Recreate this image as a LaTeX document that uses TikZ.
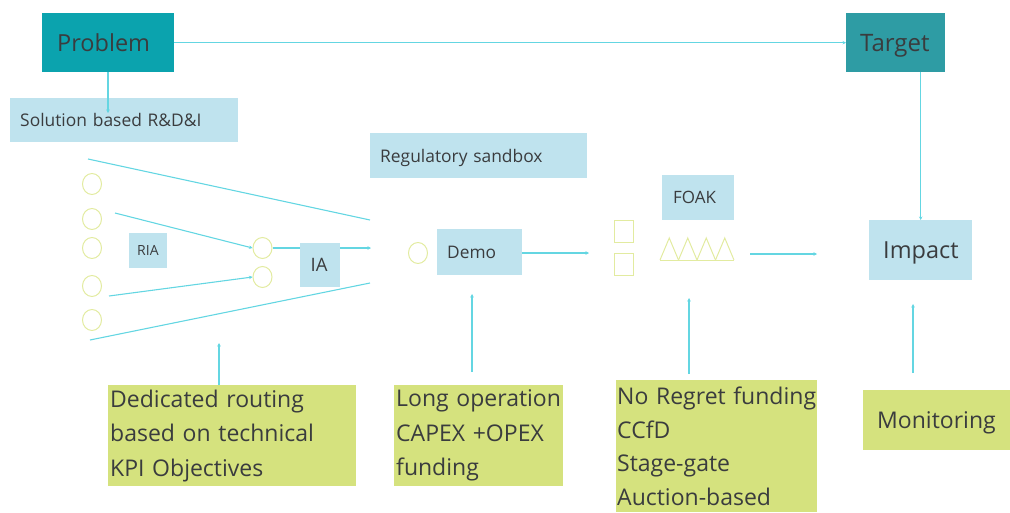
\documentclass[tikz,border=0pt]{standalone}
\usepackage{fontspec}
\setmainfont{Open Sans}
\usetikzlibrary{arrows.meta,shapes.geometric}
\definecolor{teal1}{RGB}{11,163,174}
\definecolor{teal2}{RGB}{46,156,164}
\definecolor{paleblue}{RGB}{191,227,238}
\definecolor{lime}{RGB}{213,226,126}
\definecolor{wire}{RGB}{100,214,226}
\definecolor{ring}{RGB}{226,235,160}
\definecolor{ink}{RGB}{58,60,62}
\tikzset{
  box/.style={anchor=north west, inner ysep=0pt, align=left, text=ink, text depth=0pt,
    font=\fontsize{#1}{#1}\selectfont},
  bluebox/.style={box=#1, fill=paleblue},
  greenbox/.style={anchor=north west, inner ysep=0pt, align=left, text=ink,
    fill=lime, font=\fontsize{23}{34.5}\selectfont},
  conn/.style={draw=wire, line width=1.1pt, -{Stealth[length=3.5pt,width=3.5pt]}},
  plain/.style={draw=wire, line width=1.1pt},
  ringc/.style={draw=ring, line width=1pt, ellipse, minimum width=19pt, minimum height=21pt, inner sep=0pt},
  sq/.style={draw=ring, line width=1pt, minimum width=19pt, minimum height=22pt, inner sep=0pt, anchor=north west},
}
\begin{document}
\begin{tikzpicture}[x=1pt, y=-1pt]
\useasboundingbox (0,0) rectangle (1010,512);

% top row
\node[box=23.5, fill=teal1, inner xsep=15pt, text width=102pt, minimum height=59pt] (problem) at (42,13) {\mbox{Problem}};
\node[box=24, fill=teal2, inner xsep=14pt, text width=71pt, minimum height=59pt] (target) at (846,13) {\mbox{Target}};
\draw[conn] (problem.east) -- (problem.east -| target.west);

% labels in pale blue
\node[bluebox=17.4, inner xsep=10pt, text width=208pt, minimum height=44pt] (sol) at (10,98) {Solution based R\&D\&I};
\node[bluebox=17.4, inner xsep=10pt, text width=197pt, minimum height=45pt] (sandbox) at (370,133) {Regulatory sandbox};
\node[bluebox=14, inner xsep=8pt, text width=22pt, minimum height=35pt] (ria) at (129,233) {\mbox{RIA}};
\node[bluebox=17.3, inner xsep=10pt, text width=65pt, minimum height=46pt] (demo) at (437,229) {\mbox{Demo}};
\node[bluebox=17, inner xsep=11pt, text width=50pt, minimum height=45pt] (foak) at (662,175) {\mbox{FOAK}};
\node[bluebox=23.5, inner xsep=14pt, text width=75pt, minimum height=60pt] (impact) at (869,220) {\mbox{Impact}};

% problem feeds the R&D&I stage
\coordinate (solin) at (108,113);
\draw[conn] (problem.south -| solin) -- (solin);

% funnel of research projects
\foreach \n/\yy in {1/184, 2/219, 3/248, 4/286, 5/320}
  \node[ringc] (r\n) at (92,\yy) {};
\node[ringc] (m1) at (262.5,248) {};
\node[ringc] (m2) at (262.5,277) {};
\coordinate (ftl) at (88,159);
\coordinate (ftr) at (370,220);
\coordinate (fbl) at (90,340);
\coordinate (fbr) at (370,283);
\draw[plain] (ftl) -- (ftr);
\draw[plain] (fbl) -- (fbr);
\coordinate (a1) at (115,213);
\coordinate (a2) at (109,296);
\draw[conn] (a1) -- (m1.west);
\draw[conn] (a2) -- (m2.west);
\coordinate (iaout) at (371,248);
\draw[conn] (m1.east) -- (iaout);
\node[bluebox=18.5, inner xsep=10.5pt, text width=19pt, minimum height=44pt] (ia) at (300,243) {\mbox{IA}};

% demonstration stage
\node[ringc] (dring) at (418,253) {};
\coordinate (demoout) at (589,253);
\draw[conn] (demo.east |- demoout) -- (demoout);
\node[sq] (s1) at (614,220) {};
\node[sq] (s2) at (614,253) {};

% first-of-a-kind stage
\foreach \i in {0,1,2,3}
  \draw[draw=ring, line width=1pt]
    ({660+18.5*\i},260) -- ({669.25+18.5*\i},238) -- ({678.5+18.5*\i},260);
\draw[draw=ring, line width=1pt] (660,260) -- (734,260);
\coordinate (fin) at (750,254);
\coordinate (fout) at (817,254);
\draw[conn] (fin) -- (fout);

% target sets the impact
\draw[conn] (impact.north |- target.south) -- (impact.north);

% instruments (green)
\node[greenbox, inner xsep=2pt, text width=244pt, minimum height=101pt] (ded) at (108,385)
  {\mbox{Dedicated routing}\\\mbox{based on technical}\\\mbox{KPI Objectives}};
\node[greenbox, inner xsep=2pt, text width=165pt, minimum height=101pt] (longop) at (394,385)
  {\mbox{Long operation}\\\mbox{CAPEX +OPEX}\\\mbox{funding}};
\node[greenbox, font=\fontsize{23}{33.5}\selectfont, inner xsep=1pt, text width=199pt, minimum height=132pt] (noreg) at (616,380)
  {\mbox{No Regret funding}\\\mbox{CCfD}\\\mbox{Stage-gate}\\\mbox{Auction-based}};
\node[greenbox, text depth=0pt, inner xsep=14pt, text width=119pt, minimum height=60pt] (monit) at (863,390) {\mbox{Monitoring}};

% instruments act on the stages
\coordinate (dedt) at (219,343);
\draw[conn] (ded.north -| dedt) -- (dedt);
\coordinate (lot) at (472,294);
\coordinate (lob) at (472,372);
\draw[conn] (lob) -- (lot);
\coordinate (nrt) at (689,298);
\coordinate (nrb) at (689,374);
\draw[conn] (nrb) -- (nrt);
\coordinate (mot) at (913,304);
\coordinate (mob) at (913,373);
\draw[conn] (mob) -- (mot);
\end{tikzpicture}
\end{document}
